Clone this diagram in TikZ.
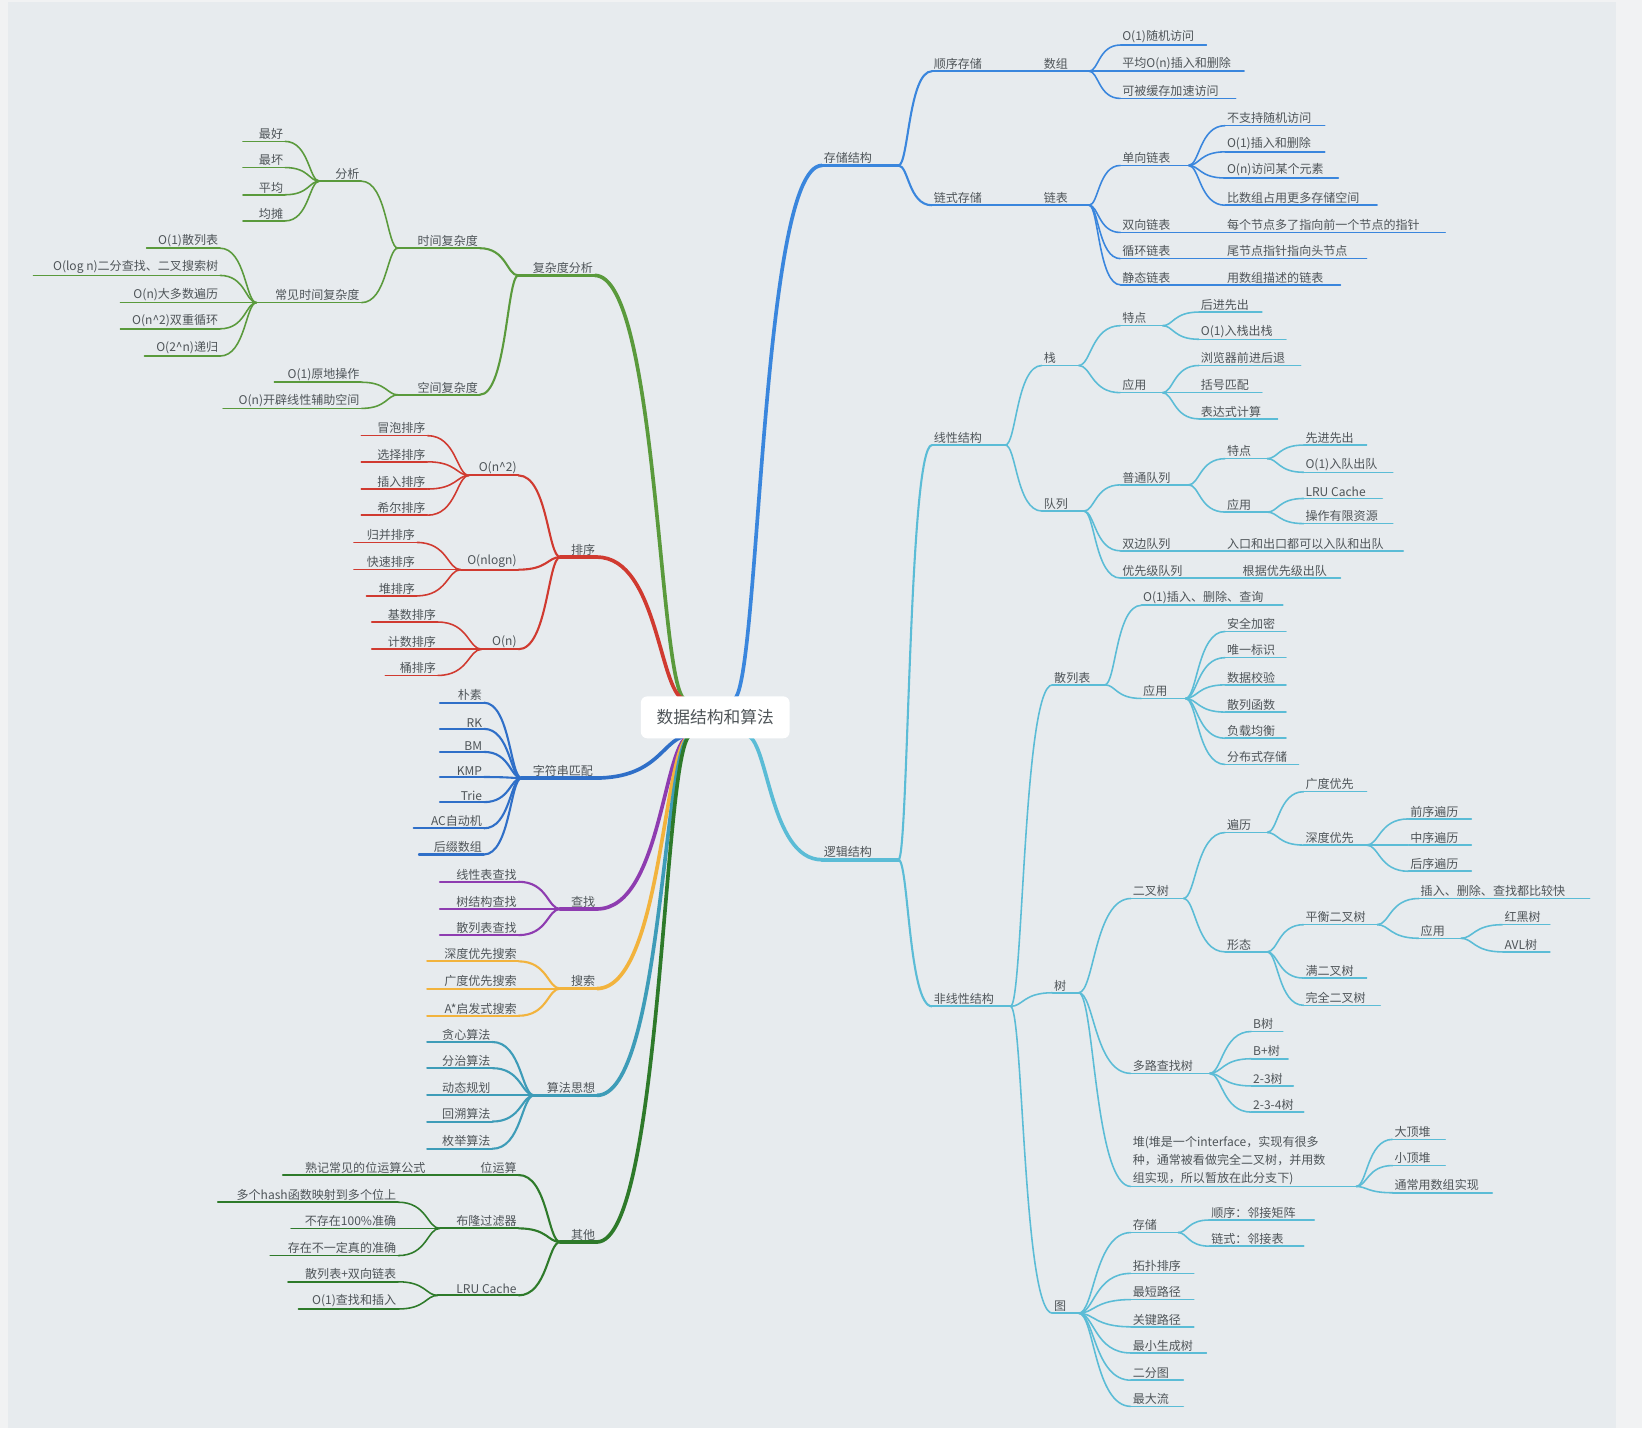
\documentclass[tikz,border=0pt]{standalone}
\usepackage{fontspec}
\setmainfont{Noto Sans CJK SC}
\usetikzlibrary{calc}
\definecolor{bg}{HTML}{E7EBEE}
\definecolor{fr}{HTML}{F1F2F3}
\definecolor{tx}{HTML}{4F5559}
\definecolor{cgr}{HTML}{5A9A3C}
\definecolor{cre}{HTML}{D03A30}
\definecolor{cbl}{HTML}{2F6FC8}
\definecolor{cpu}{HTML}{8E3CB0}
\definecolor{cor}{HTML}{F2B33D}
\definecolor{cte}{HTML}{3E9CB8}
\definecolor{cdg}{HTML}{2E7A2A}
\definecolor{crb}{HTML}{3A86DD}
\definecolor{crc}{HTML}{5BBCD6}
\tikzset{lbl/.style={inner sep=1.5pt,text=tx,font=\fontsize{11.5}{14}\selectfont}}
\def\bc{black}\def\bw{1.5pt}
\newcommand{\nR}[6]{%
 \coordinate (#2-l) at (#3,#5); \coordinate (#2-r) at (#4,#5);
 \node[lbl,anchor=south west] (#2) at (#3,#5) {#6};
 \draw[\bc,line width=\bw,line cap=round] (#2-l)--(#2-r);
 \draw[\bc,line width=\bw] let \p1=(#1-r),\p2=(#2-l) in (\p1) .. controls ({\x1+0.3*(\x2-\x1)},\y1) and ({\x1+0.3*(\x2-\x1)},\y2) .. (\p2);}
\newcommand{\nL}[6]{%
 \coordinate (#2-l) at (#3,#5); \coordinate (#2-r) at (#4,#5);
 \node[lbl,anchor=south east] (#2) at (#4,#5) {#6};
 \draw[\bc,line width=\bw,line cap=round] (#2-l)--(#2-r);
 \draw[\bc,line width=\bw] let \p1=(#1-l),\p2=(#2-r) in (\p1) .. controls ({\x1+0.3*(\x2-\x1)},\y1) and ({\x1+0.3*(\x2-\x1)},\y2) .. (\p2);}
\begin{document}
\begin{tikzpicture}[x=1pt,y=-1pt]
\fill[fr] (0,0) rectangle (1568,1364);
\fill[bg] (8,2) rectangle (1543,1364);
\useasboundingbox (0,0) rectangle (1568,1364);
\coordinate (ct-r) at (700,668); \coordinate (cb-r) at (712,702);
\coordinate (ct-l) at (655,668); \coordinate (cb-l) at (660,702);
% ===== right: 存储结构
\def\bc{crb}\def\bw{3.5pt}
\nR{ct}{cc}{785}{858}{158}{存储结构}
\def\bw{2pt}
\nR{cc}{sx}{890}{980}{68}{顺序存储}
\nR{cc}{ls}{890}{980}{196}{链式存储}
\def\bw{1.5pt}
\nR{sx}{sz}{995}{1040}{68}{数组}
\nR{sz}{a1}{1070}{1152}{43}{O(1)随机访问}
\nR{sz}{a2}{1070}{1188}{68}{平均O(n)插入和删除}
\nR{sz}{a3}{1070}{1180}{94}{可被缓存加速访问}
\nR{ls}{lb}{995}{1040}{196}{链表}
\nR{lb}{dx}{1070}{1135}{158}{单向链表}
\nR{dx}{d1}{1170}{1265}{120}{不支持随机访问}
\nR{dx}{d2}{1170}{1265}{145}{O(1)插入和删除}
\nR{dx}{d3}{1170}{1278}{170}{O(n)访问某个元素}
\nR{dx}{d4}{1170}{1315}{196}{比数组占用更多存储空间}
\nR{lb}{sx2}{1070}{1160}{222}{双向链表}
\nR{sx2}{s1}{1170}{1380}{222}{每个节点多了指向前一个节点的指针}
\nR{lb}{xh}{1070}{1160}{247}{循环链表}
\nR{xh}{x1}{1170}{1305}{247}{尾节点指针指向头节点}
\nR{lb}{jt}{1070}{1160}{272}{静态链表}
\nR{jt}{j1}{1170}{1280}{272}{用数组描述的链表}
% ===== right: 逻辑结构
\def\bc{crc}\def\bw{3.5pt}
\nR{cb}{lj}{785}{858}{821}{逻辑结构}
\def\bw{2pt}
\nR{lj}{xx}{890}{960}{425}{线性结构}
\nR{lj}{fx}{890}{965}{961}{非线性结构}
\def\bw{1.5pt}
\nR{xx}{zh}{995}{1030}{349}{栈}
\nR{zh}{zt}{1070}{1110}{311}{特点}
\nR{zt}{zt1}{1145}{1205}{298}{后进先出}
\nR{zt}{zt2}{1145}{1228}{324}{O(1)入栈出栈}
\nR{zh}{zy}{1070}{1110}{375}{应用}
\nR{zy}{zy1}{1145}{1242}{349}{浏览器前进后退}
\nR{zy}{zy2}{1145}{1205}{375}{括号匹配}
\nR{zy}{zy3}{1145}{1220}{400}{表达式计算}
\nR{xx}{dl}{995}{1035}{488}{队列}
\nR{dl}{pt}{1070}{1135}{463}{普通队列}
\nR{pt}{pd}{1170}{1210}{438}{特点}
\nR{pd}{pd1}{1245}{1305}{425}{先进先出}
\nR{pd}{pd2}{1245}{1330}{451}{O(1)入队出队}
\nR{pt}{py}{1170}{1210}{489}{应用}
\nR{py}{py1}{1245}{1320}{476}{LRU Cache}
\nR{py}{py2}{1245}{1330}{500}{操作有限资源}
\nR{dl}{sb}{1070}{1160}{526}{双边队列}
\nR{sb}{sb1}{1170}{1340}{526}{入口和出口都可以入队和出队}
\nR{dl}{yx}{1070}{1175}{552}{优先级队列}
\nR{yx}{yx1}{1185}{1280}{552}{根据优先级出队}
\nR{fx}{sl}{1005}{1055}{654}{散列表}
\nR{sl}{sl1}{1090}{1225}{578}{O(1)插入、删除、查询}
\nR{sl}{sy}{1090}{1132}{667}{应用}
\nR{sy}{sy1}{1170}{1228}{603}{安全加密}
\nR{sy}{sy2}{1170}{1228}{628}{唯一标识}
\nR{sy}{sy3}{1170}{1228}{654}{数据校验}
\nR{sy}{sy4}{1170}{1228}{680}{散列函数}
\nR{sy}{sy5}{1170}{1228}{705}{负载均衡}
\nR{sy}{sy6}{1170}{1240}{730}{分布式存储}
\nR{fx}{sh}{1005}{1030}{948}{树}
\nR{sh}{ec}{1080}{1130}{858}{二叉树}
\nR{ec}{bl}{1170}{1210}{795}{遍历}
\nR{bl}{gd}{1245}{1305}{756}{广度优先}
\nR{bl}{sd}{1245}{1305}{807}{深度优先}
\nR{sd}{sd1}{1345}{1405}{782}{前序遍历}
\nR{sd}{sd2}{1345}{1405}{807}{中序遍历}
\nR{sd}{sd3}{1345}{1405}{832}{后序遍历}
\nR{ec}{xt}{1170}{1210}{909}{形态}
\nR{xt}{ph}{1245}{1315}{883}{平衡二叉树}
\nR{ph}{ph1}{1355}{1518}{858}{插入、删除、查找都比较快}
\nR{ph}{ph2}{1355}{1395}{896}{应用}
\nR{ph2}{hh}{1435}{1480}{883}{红黑树}
\nR{ph2}{avl}{1435}{1480}{909}{AVL树}
\nR{xt}{mt}{1245}{1305}{934}{满二叉树}
\nR{xt}{wq}{1245}{1318}{960}{完全二叉树}
\nR{sh}{dlc}{1080}{1155}{1025}{多路查找树}
\nR{dlc}{b1}{1195}{1225}{985}{B树}
\nR{dlc}{b2}{1195}{1230}{1011}{B+树}
\nR{dlc}{b3}{1195}{1235}{1037}{2-3树}
\nR{dlc}{b4}{1195}{1245}{1062}{2-3-4树}
\coordinate (dui-l) at (1080,1133); \coordinate (dui-r) at (1295,1133);
\node[lbl,anchor=south west,align=left,font=\fontsize{11.5}{17}\selectfont] (dui) at (1080,1133) {堆(堆是一个interface，实现有很多\\种，通常被看做完全二叉树，并用数\\组实现，所以暂放在此分支下)};
\draw[crc,line width=1.5pt,line cap=round] (dui-l)--(dui-r);
\draw[crc,line width=1.5pt] let \p1=(sh-r),\p2=(dui-l) in (\p1) .. controls ({\x1+0.3*(\x2-\x1)},\y1) and ({\x1+0.3*(\x2-\x1)},\y2) .. (\p2);
\nR{dui}{du1}{1330}{1380}{1088}{大顶堆}
\nR{dui}{du2}{1330}{1380}{1113}{小顶堆}
\nR{dui}{du3}{1330}{1425}{1139}{通常用数组实现}
\nR{fx}{tu}{1005}{1030}{1254}{图}
\nR{tu}{cc2}{1080}{1125}{1177}{存储}
\nR{cc2}{cc21}{1155}{1255}{1165}{顺序：邻接矩阵}
\nR{cc2}{cc22}{1155}{1245}{1190}{链式：邻接表}
\nR{tu}{t1}{1080}{1140}{1216}{拓扑排序}
\nR{tu}{t2}{1080}{1140}{1241}{最短路径}
\nR{tu}{t3}{1080}{1140}{1267}{关键路径}
\nR{tu}{t4}{1080}{1152}{1292}{最小生成树}
\nR{tu}{t5}{1080}{1130}{1318}{二分图}
\nR{tu}{t6}{1080}{1130}{1343}{最大流}
% ===== left: 复杂度分析
\def\bc{cgr}\def\bw{3.5pt}
\nL{ct}{fz}{495}{568}{263}{复杂度分析}
\def\bw{2pt}
\nL{fz}{sj}{380}{458}{237}{时间复杂度}
\nL{fz}{kj}{380}{458}{377}{空间复杂度}
\def\bw{1.5pt}
\nL{sj}{fx2}{305}{345}{173}{分析}
\nL{fx2}{f1}{232}{272}{135}{最好}
\nL{fx2}{f2}{232}{272}{160}{最坏}
\nL{fx2}{f3}{232}{272}{186}{平均}
\nL{fx2}{f4}{232}{272}{211}{均摊}
\nL{sj}{cj}{245}{345}{289}{常见时间复杂度}
\nL{cj}{c1}{140}{210}{237}{O(1)散列表}
\nL{cj}{c2}{32}{210}{263}{O(log n)二分查找、二叉搜索树}
\nL{cj}{c3}{115}{210}{289}{O(n)大多数遍历}
\nL{cj}{c4}{115}{210}{314}{O(n\^{}2)双重循环}
\nL{cj}{c5}{138}{210}{340}{O(2\^{}n)递归}
\nL{kj}{k1}{262}{345}{365}{O(1)原地操作}
\nL{kj}{k2}{213}{345}{390}{O(n)开辟线性辅助空间}
% ===== 排序
\def\bc{cre}\def\bw{3.5pt}
\nL{ct}{px}{535}{570}{532}{排序}
\def\bw{2pt}
\nL{px}{p2}{448}{495}{454}{O(n\^{}2)}
\nL{px}{pl}{440}{495}{544}{O(nlogn)}
\nL{px}{pn}{460}{495}{620}{O(n)}
\def\bw{1.5pt}
\nL{p2}{p21}{345}{408}{416}{冒泡排序}
\nL{p2}{p22}{345}{408}{441}{选择排序}
\nL{p2}{p23}{345}{408}{467}{插入排序}
\nL{p2}{p24}{345}{408}{492}{希尔排序}
\nL{pl}{pl1}{338}{398}{518}{归并排序}
\nL{pl}{pl2}{338}{398}{544}{快速排序}
\nL{pl}{pl3}{350}{398}{569}{堆排序}
\nL{pn}{pn1}{355}{418}{594}{基数排序}
\nL{pn}{pn2}{355}{418}{620}{计数排序}
\nL{pn}{pn3}{368}{418}{645}{桶排序}
% ===== 字符串匹配
\def\bc{cbl}\def\bw{3.5pt}
\nL{cb}{zf}{498}{568}{743}{字符串匹配}
\def\bw{2pt}
\nL{zf}{z1}{420}{462}{671}{朴素}
\nL{zf}{z2}{420}{462}{696}{RK}
\nL{zf}{z3}{420}{462}{718}{BM}
\nL{zf}{z4}{420}{462}{742}{KMP}
\nL{zf}{z5}{420}{462}{766}{Trie}
\nL{zf}{z6}{395}{462}{791}{AC自动机}
\nL{zf}{z7}{400}{462}{816}{后缀数组}
% ===== 查找
\def\bc{cpu}\def\bw{3.5pt}
\nL{cb}{cz}{535}{570}{868}{查找}
\def\bw{2pt}
\nL{cz}{cz1}{420}{495}{842}{线性表查找}
\nL{cz}{cz2}{420}{495}{868}{树结构查找}
\nL{cz}{cz3}{420}{495}{893}{散列表查找}
% ===== 搜索
\def\bc{cor}\def\bw{3.5pt}
\nL{cb}{ss}{535}{570}{944}{搜索}
\def\bw{2pt}
\nL{ss}{ss1}{408}{495}{918}{深度优先搜索}
\nL{ss}{ss2}{408}{495}{944}{广度优先搜索}
\nL{ss}{ss3}{408}{495}{970}{A*启发式搜索}
% ===== 算法思想
\def\bc{cte}\def\bw{3.5pt}
\nL{cb}{sf}{510}{570}{1046}{算法思想}
\def\bw{2pt}
\nL{sf}{sf1}{408}{470}{995}{贪心算法}
\nL{sf}{sf2}{408}{470}{1020}{分治算法}
\nL{sf}{sf3}{408}{470}{1046}{动态规划}
\nL{sf}{sf4}{408}{470}{1071}{回溯算法}
\nL{sf}{sf5}{408}{470}{1097}{枚举算法}
% ===== 其他
\def\bc{cdg}\def\bw{3.5pt}
\nL{cb}{qt}{535}{570}{1186}{其他}
\def\bw{2pt}
\nL{qt}{wy}{450}{495}{1122}{位运算}
\nL{qt}{bg}{420}{495}{1173}{布隆过滤器}
\nL{qt}{lru}{418}{495}{1237}{LRU Cache}
\def\bw{1.5pt}
\nL{wy}{wy1}{270}{408}{1122}{熟记常见的位运算公式}
\nL{bg}{bg1}{208}{380}{1148}{多个hash函数映射到多个位上}
\nL{bg}{bg2}{278}{380}{1173}{不存在100\%准确}
\nL{bg}{bg3}{258}{380}{1199}{存在不一定真的准确}
\nL{lru}{lr1}{275}{380}{1224}{散列表+双向链表}
\nL{lru}{lr2}{285}{380}{1250}{O(1)查找和插入}
% center
\node[fill=white,rounded corners=6pt,minimum width=142pt,minimum height=40pt,text=tx,font=\fontsize{16}{18}\selectfont] (root) at (683,685) {数据结构和算法};
\end{tikzpicture}
\end{document}
